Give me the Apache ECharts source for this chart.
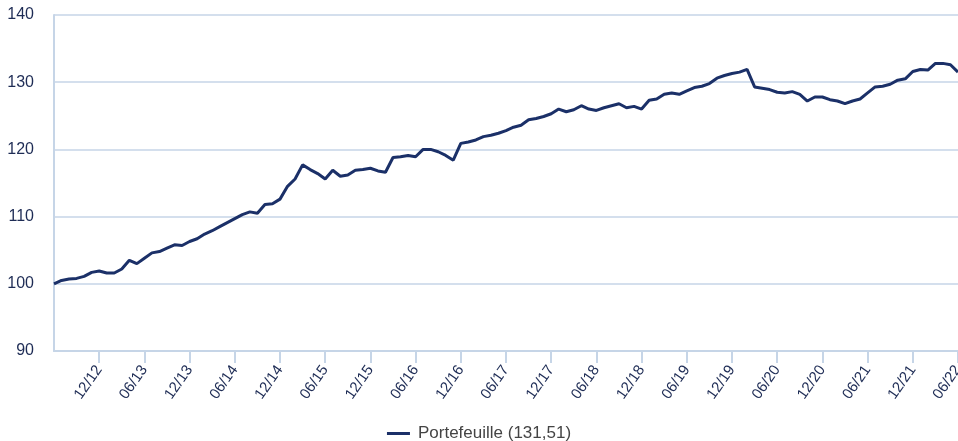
<!DOCTYPE html>
<html>
<head>
<meta charset="utf-8">
<script src="https://cdn.jsdelivr.net/npm/echarts@6/dist/echarts.min.js"></script>
<style>
  html, body { margin: 0; padding: 0; background: #fff; }
  #chart { width: 958px; height: 441px; }
</style>
</head>
<body>
<div id="chart"></div>
<script>
  // mois de 06/12 a 06/22
  var months = [];
  for (var y = 12; y <= 22; y++) {
    for (var m = 1; m <= 12; m++) {
      if ((y === 12 && m < 6) || (y === 22 && m > 6)) continue;
      months.push((m < 10 ? '0' + m : '' + m) + '/' + y);
    }
  }

  // etiquettes affichees sur l'axe x
  var tickLabels = ['12/12', '06/13', '12/13', '06/14', '12/14', '06/15', '12/15', '06/16', '12/16', '06/17',
    '12/17', '06/18', '12/18', '06/19', '12/19', '06/20', '12/20', '06/21', '12/21', '06/22'];

  var seriesName = 'Portefeuille (131,51)';

  // valeurs mensuelles (base 100)
  var portefeuille = [
    100.0, 100.5, 100.7, 100.8, 101.1, 101.7, 101.9, 101.6, 101.6, 102.2,
    103.5, 103.0, 103.8, 104.6, 104.8, 105.3, 105.8, 105.7, 106.3, 106.7,
    107.4, 107.9, 108.5, 109.1, 109.7, 110.3, 110.7, 110.5, 111.8, 111.9,
    112.6, 114.5, 115.6, 117.7, 117.0, 116.4, 115.6, 116.9, 116.0, 116.2,
    116.9, 117.0, 117.2, 116.8, 116.6, 118.8, 118.9, 119.1, 118.9, 120.0,
    120.0, 119.65, 119.1, 118.4, 120.9, 121.1, 121.4, 121.9, 122.1, 122.4,
    122.8, 123.3, 123.6, 124.4, 124.6, 124.9, 125.3, 126.0, 125.6, 125.9,
    126.5, 126.0, 125.8, 126.2, 126.5, 126.8, 126.2, 126.4, 126.0, 127.3,
    127.5, 128.2, 128.4, 128.2, 128.7, 129.2, 129.4, 129.8, 130.6, 131.0,
    131.3, 131.5, 131.9, 129.3, 129.1, 128.9, 128.5, 128.4, 128.6, 128.2,
    127.2, 127.8, 127.8, 127.4, 127.2, 126.8, 127.2, 127.5, 128.4, 129.3,
    129.4, 129.7, 130.3, 130.5, 131.6, 131.9, 131.8, 132.8, 132.8, 132.6, 131.5
  ];

  var showTick = function (index, value) {
    return tickLabels.indexOf(value) !== -1;
  };

  var chart = echarts.init(document.getElementById('chart'));
  chart.setOption({
    animation: false,
    grid: { left: 54, right: 0, top: 15, bottom: 90, outerBoundsMode: 'none' },
    legend: {
      top: 420,
      left: 'center',
      icon: 'rect',
      itemWidth: 23,
      itemHeight: 3,
      textStyle: { color: '#444444', fontSize: 17, fontFamily: 'Liberation Sans', padding: [0, 0, 0, 3] },
      data: [seriesName]
    },
    xAxis: {
      type: 'category',
      boundaryGap: false,
      data: months,
      axisLine: { lineStyle: { color: '#c6d5e7', width: 2 } },
      axisTick: { show: true, length: 12, interval: showTick, lineStyle: { color: '#c6d5e7', width: 2 } },
      axisLabel: {
        interval: showTick,
        rotate: 55,
        margin: 16,
        color: '#1e2c55',
        fontSize: 15,
        fontFamily: 'Liberation Sans'
      },
      splitLine: { show: false }
    },
    yAxis: {
      type: 'value',
      min: 90,
      max: 140,
      interval: 10,
      axisLine: { show: true, lineStyle: { color: '#c6d5e7', width: 2 } },
      axisTick: { show: false },
      axisLabel: { margin: 20, color: '#1e2c55', fontSize: 16, fontFamily: 'Liberation Sans' },
      splitLine: { lineStyle: { color: '#c6d5e7', width: 1.5 } }
    },
    series: [{
      name: seriesName,
      type: 'line',
      data: portefeuille,
      symbol: 'none',
      lineStyle: { color: '#1b3068', width: 3 },
      itemStyle: { color: '#1b3068' }
    }]
  });
</script>
</body>
</html>
